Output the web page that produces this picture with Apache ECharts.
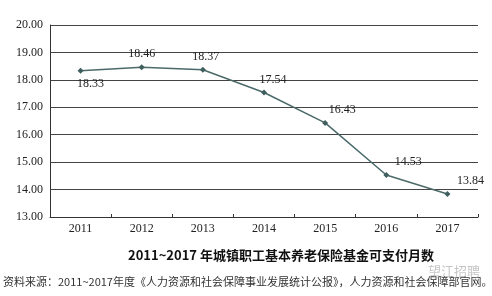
<!DOCTYPE html>
<html><head><meta charset="utf-8">
<script src="https://cdn.jsdelivr.net/npm/echarts@6/dist/echarts.min.js"></script>
<style>html,body{margin:0;padding:0;background:#fff}#c{width:492px;height:296px}</style>
</head><body><div id="c"></div>
<script>
var years = ['2011','2012','2013','2014','2015','2016','2017'];
var months = [18.33, 18.46, 18.37, 17.54, 16.43, 14.53, 13.84];
var labelPos = ['bottom','top','top','top','top','top','top'];
var labelDx = [10, 0, 3, 9, 17, 22, 23];
var titleText = '2011~2017 年城镇职工基本养老保险基金可支付月数';
var sourceText = '资料来源：2011~2017年度《人力资源和社会保障事业发展统计公报》，人力资源和社会保障部官网。';
var watermark = '望江招聘';

var chart = echarts.init(document.getElementById('c'), null, {renderer:'canvas'});
var serif = '"Liberation Serif","DejaVu Serif",serif';
chart.setOption({
  animation:false,
  backgroundColor:'#fff',
  grid:{left:50, right:14, top:25, bottom:79, containLabel:false},
  xAxis:{type:'category', data:years, boundaryGap:true,
    axisLine:{lineStyle:{color:'#333', width:1}},
    axisTick:{show:true, inside:true, length:3, lineStyle:{color:'#333'}},
    axisLabel:{color:'#222', fontFamily:serif, fontSize:12, margin:6}},
  yAxis:{type:'value', min:13, max:20, interval:1,
    axisLine:{show:true, lineStyle:{color:'#333', width:1}},
    axisTick:{show:false},
    splitLine:{lineStyle:{color:'#444', width:1}},
    axisLabel:{color:'#222', fontFamily:serif, fontSize:12, margin:7,
      formatter:function(v){return v.toFixed(2);}}},
  series:[{type:'line', data:months.map(function(v,i){
      return {value:v, label:{position:labelPos[i], offset:[labelDx[i], 0]}};
    }),
    symbol:'diamond', symbolSize:6, showAllSymbol:true,
    lineStyle:{color:'#4c6a6a', width:1.5},
    itemStyle:{color:'#3f5e5e'},
    label:{show:true, fontFamily:serif, fontSize:12, color:'#222', distance:4,
      formatter:function(p){return p.value.toFixed(2);}}}],
  graphic:[
    {type:'text', left:128, top:249, style:{text:titleText, fill:'#111',
      font:'bold 13px "Noto Sans CJK SC", sans-serif'}},
    {type:'text', left:3, top:276, style:{text:sourceText, fill:'#333',
      font:'11px "Noto Sans CJK SC", sans-serif'}},
    {type:'text', left:428, top:265, style:{text:watermark, fill:'rgba(150,150,150,0.55)',
      font:'13px "Noto Sans CJK SC", sans-serif'}}
  ]
});
</script></body></html>
